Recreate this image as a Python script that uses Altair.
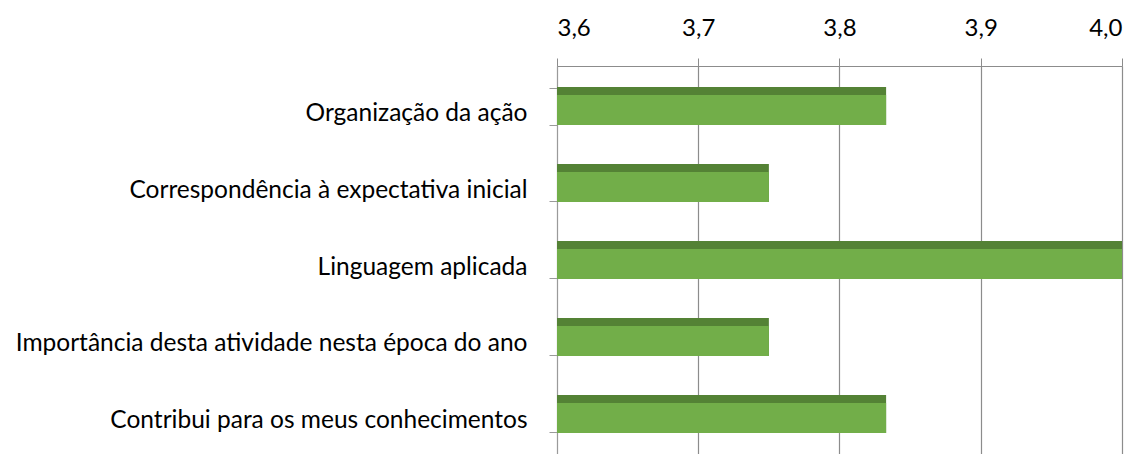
import altair as alt
import pandas as pd

categories = [
    "Organização da ação ",
    "Correspondência à expectativa inicial",
    "Linguagem aplicada",
    "Importância desta atividade nesta época do ano",
    "Contribui para os meus conhecimentos",
]
values = [3.833, 3.75, 4.0, 3.75, 3.833]
x_ticks = [3.6, 3.7, 3.8, 3.9, 4.0]

df = pd.DataFrame({"cat": categories, "val": values, "base": [3.6] * len(values)})

FONT = "Lato"

y_enc = alt.Y(
    "cat:N",
    sort=categories,
    title=None,
    scale=alt.Scale(paddingInner=0.52, paddingOuter=0.28),
    axis=alt.Axis(
        labelFontSize=24.5,
        labelFont=FONT,
        labelColor="#000000",
        labelPadding=22,
        labelOffset=7,
        labelLimit=600,
        tickBand="extent",
        tickSize=8,
        tickColor="#9a9a9a",
        domainColor="#9a9a9a",
        minExtent=549,
        maxExtent=549,
    ),
)

x_enc = alt.X(
    "base:Q",
    title=None,
    scale=alt.Scale(domain=[3.6, 4.0], nice=False, zero=False),
    axis=alt.Axis(
        orient="top",
        values=x_ticks,
        labelExpr="replace(format(datum.value, '.1f'), '.', ',')",
        labelFontSize=24,
        labelFont=FONT,
        labelColor="#000000",
        labelPadding=18,
        tickSize=8,
        tickColor="#8c8c8c",
        domainColor="#8c8c8c",
        grid=True,
        gridColor="#8c8c8c",
        gridWidth=1.2,
    ),
)

dark = alt.Chart(df).mark_bar(color="#548235", size=38, clip=True).encode(
    y=y_enc, x=x_enc, x2="val:Q"
)
light = alt.Chart(df).mark_bar(color="#72AE49", size=30, yOffset=4, clip=True).encode(
    y=y_enc, x=x_enc, x2="val:Q"
)

chart = (
    alt.layer(dark, light)
    .properties(width=565, height=388, padding={"left": 0, "top": 8, "right": 10, "bottom": 0})
    .configure_view(stroke=None)
    .configure(font=FONT)
)

chart.save("out.html", embed_options={"renderer": "svg", "actions": False})
